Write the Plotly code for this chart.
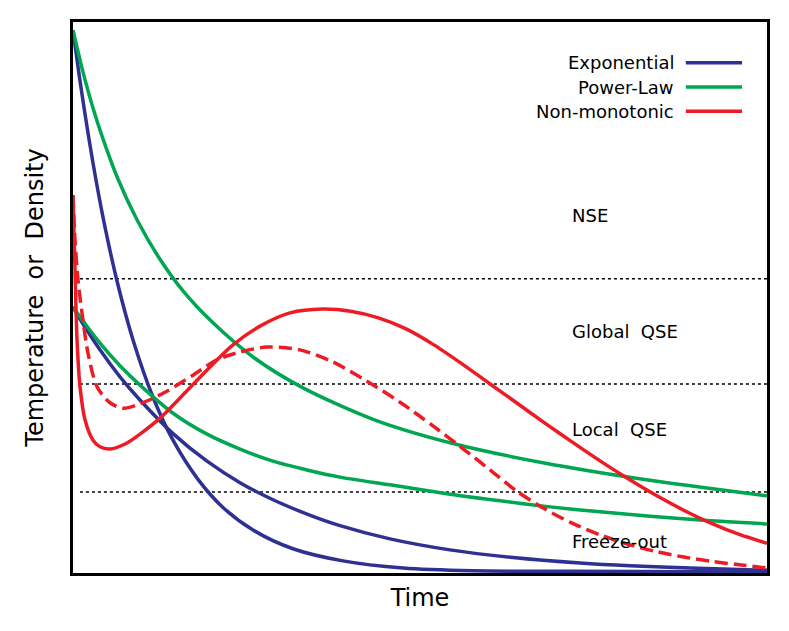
import plotly.graph_objects as go

# time and value are in arbitrary units (0-100)
exp_fast_t = [0, 0.86, 1.73, 2.88, 4.32, 6.34, 8.65, 11.53, 14.41, 18.01, 21.61, 25.94, 31.7, 38.9, 47.55, 57.64, 72.05, 100]
exp_fast_v = [98.5, 90.6, 83.3, 74.4, 64.6, 53.0, 42.3, 31.9, 24.1, 17.0, 11.9, 7.8, 4.4, 2.2, 0.9, 0.4, 0.3, 0.2]

exp_slow_t = [0, 1.01, 3.89, 6.77, 9.65, 14.41, 19.31, 24.06, 28.82, 33.72, 38.47, 45.68, 54.32, 63.4, 73.05, 80.26, 88.9, 100]
exp_slow_v = [48.3, 46.1, 40.5, 35.6, 31.4, 25.3, 20.3, 16.4, 13.3, 10.7, 8.6, 6.2, 4.2, 2.8, 1.8, 1.3, 0.9, 0.5]

pow_fast_t = [0, 0.72, 1.44, 2.88, 4.32, 6.48, 9.22, 12.25, 15.85, 20.17, 25.94, 33.14, 43.23, 54.76, 67.72, 82.13, 100]
pow_fast_v = [98.5, 94.6, 90.9, 84.4, 78.8, 71.5, 64.1, 57.5, 51.2, 45.4, 39.2, 33.6, 27.9, 23.5, 20.0, 17.0, 14.0]

pow_slow_t = [0, 1.01, 3.89, 6.77, 9.65, 14.41, 19.31, 24.06, 28.82, 33.72, 38.47, 45.68, 54.32, 61.53, 68.73, 75.94, 83.14, 90.35, 100]
pow_slow_v = [48.3, 46.5, 41.7, 37.6, 34.1, 29.0, 25.2, 22.5, 20.3, 18.7, 17.4, 16.0, 14.3, 13.1, 12.0, 11.1, 10.3, 9.6, 8.9]

nonmono_t = [0, 0.29, 0.58, 1.01, 1.73, 2.88, 3.89, 5.33, 7.78, 9.65, 12.54, 16.14, 19.74, 23.05, 26.95, 31.27, 36,
             40, 44, 48, 52, 56, 60, 64, 68, 72, 76, 80, 84, 88, 92, 96, 100]
nonmono_v = [68.6, 55.0, 42.3, 33.8, 27.8, 24.1, 22.9, 22.5, 23.6, 25.2, 28.1, 32.7, 37.4, 41.4, 44.8, 47.2, 47.9,
             47.5, 46.3, 44.3, 41.4, 38.0, 34.4, 30.8, 27.2, 23.7, 20.3, 17.1, 14.1, 11.4, 9.0, 7.0, 5.4]

nonmono2_t = [0, 0.29, 0.72, 1.3, 2.16, 3.46, 5.33, 7.2, 9.65, 13.26, 17.29, 20.75, 24.06, 27.95, 32.71, 37.46, 42.36,
              47.12, 51.87, 56.77, 60.09, 64, 68, 72, 76, 80, 84, 88, 92, 96, 100]
nonmono2_v = [68.6, 60.4, 53.2, 47.2, 39.9, 33.8, 30.9, 29.9, 30.7, 32.8, 35.9, 38.7, 40.1, 41.0, 40.5, 38.3, 34.8,
              31.0, 26.7, 22.0, 18.7, 14.8, 11.6, 9.0, 6.9, 5.2, 3.9, 2.9, 2.1, 1.5, 0.9]

regime_bounds = [53.4, 34.3, 14.7]
regime_names = ["NSE", "Global&nbsp; QSE", "Local&nbsp; QSE", "Freeze-out"]
regime_label_y = [64.8, 43.9, 26.1, 5.8]

legend_names = ["Exponential", "Power-Law", "Non-monotonic"]

blue = "#2e3192"
green = "#00a651"
red = "#ed1c24"
font = "DejaVu Sans"

fig = go.Figure()

def curve(t, v, color, dash="solid"):
    fig.add_trace(go.Scatter(x=t, y=v, mode="lines",
                             line=dict(color=color, width=3.5, dash=dash, shape="spline", smoothing=0.8),
                             showlegend=False, hoverinfo="skip"))

curve(exp_fast_t, exp_fast_v, blue)
curve(exp_slow_t, exp_slow_v, blue)
curve(pow_fast_t, pow_fast_v, green)
curve(pow_slow_t, pow_slow_v, green)
curve(nonmono2_t, nonmono2_v, red, dash="13px,6px")
curve(nonmono_t, nonmono_v, red)

# regime boundaries
for b in regime_bounds:
    fig.add_shape(type="line", xref="x", yref="y", x0=1, x1=100, y0=b, y1=b,
                  line=dict(color="black", width=1.5, dash="dot"), layer="below")

for name, y in zip(regime_names, regime_label_y):
    fig.add_annotation(x=71.6, y=y, xref="x", yref="y", text=name, showarrow=False,
                       xanchor="left", yanchor="middle",
                       font=dict(family=font, size=18, color="black"))

# legend drawn by hand: text then line
for i, (name, col) in enumerate(zip(legend_names, [blue, green, red])):
    yy = 0.926 - i * 0.044
    fig.add_annotation(x=0.869, y=yy, xref="paper", yref="paper", text=name, showarrow=False,
                       xanchor="right", yanchor="middle",
                       font=dict(family=font, size=18, color="black"))
    fig.add_shape(type="line", xref="paper", yref="paper", x0=0.883, x1=0.964, y0=yy, y1=yy,
                  line=dict(color=col, width=3.5))

fig.update_xaxes(range=[0, 100], showticklabels=False, ticks="", showgrid=False, zeroline=False,
                 showline=True, mirror=True, linecolor="black", linewidth=3, automargin=False,
                 title=dict(text="Time", font=dict(family=font, size=24, color="black"), standoff=15))
fig.update_yaxes(range=[0, 100], showticklabels=False, ticks="", showgrid=False, zeroline=False,
                 showline=True, mirror=True, linecolor="black", linewidth=3, automargin=False,
                 title=dict(text="Temperature&nbsp; or&nbsp; Density",
                            font=dict(family=font, size=24, color="black"), standoff=20))

# the page body adds 8px, so the figure is 8px smaller and margins shifted
fig.update_layout(width=781, height=623, margin=dict(l=65, r=22, t=14, b=58),
                  plot_bgcolor="white", paper_bgcolor="white", showlegend=False)

fig.write_html("out.html")
